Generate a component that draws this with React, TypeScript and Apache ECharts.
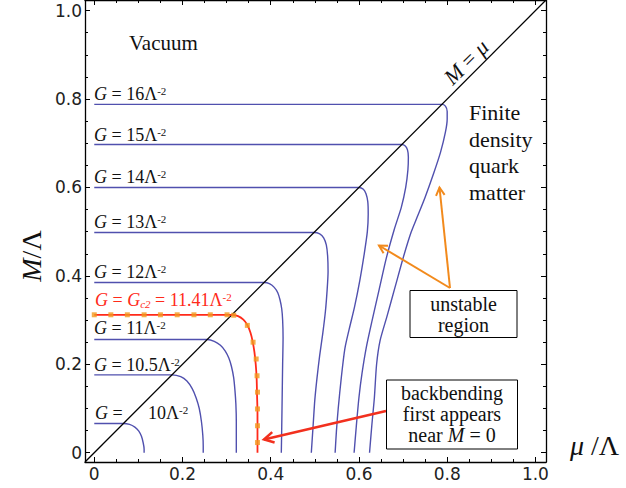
import React, { useEffect, useRef } from "react";
import * as echarts from "echarts";

// ---- axis range and ticks ----
const AXIS_MIN = -0.021;
const AXIS_MAX = 1.024;
const majorTicks = [0, 0.2, 0.4, 0.6, 0.8, 1.0];
const minorTicks = [0.05, 0.1, 0.15, 0.25, 0.3, 0.35, 0.45, 0.5, 0.55, 0.65, 0.7, 0.75, 0.85, 0.9, 0.95];
const tickLabels = ["0", "0.2", "0.4", "0.6", "0.8", "1.0"];

// ---- M = mu diagonal ----
const diagonal = [[AXIS_MIN, AXIS_MIN], [AXIS_MAX, AXIS_MAX]];

// ---- gap-equation solution curves (mu/Lambda, M/Lambda) ----
const curveG10 = [[0, 0.066], [0.066, 0.066], [0.080, 0.064], [0.092, 0.058], [0.101, 0.049], [0.107, 0.037], [0.111, 0.022], [0.113, 0.008], [0.113, 0]];
const curveG105 = [[0, 0.176], [0.176, 0.176], [0.196, 0.172], [0.210, 0.162], [0.222, 0.145], [0.231, 0.124], [0.238, 0.100], [0.243, 0.070], [0.246, 0.040], [0.247, 0.015], [0.247, 0]];
const curveG11 = [[0, 0.256], [0.256, 0.256], [0.272, 0.252], [0.286, 0.243], [0.297, 0.230], [0.305, 0.214], [0.311, 0.195], [0.316, 0.170], [0.319, 0.140], [0.321, 0.110], [0.322, 0.070], [0.322, 0.030], [0.322, 0]];
const curveGc2 = [[0, 0.312], [0.312, 0.312], [0.326, 0.309], [0.338, 0.301], [0.347, 0.289], [0.354, 0.272], [0.359, 0.252], [0.363, 0.228], [0.366, 0.200], [0.368, 0.170], [0.369, 0.130], [0.370, 0.090], [0.370, 0.050], [0.370, 0]];
const markersGc2 = [[0, 0.312], [0.0376, 0.312], [0.075, 0.312], [0.113, 0.312], [0.150, 0.312], [0.188, 0.312], [0.226, 0.312], [0.263, 0.312], [0.301, 0.312], [0.316, 0.311], [0.347, 0.288], [0.360, 0.250], [0.367, 0.212], [0.369, 0.174], [0.370, 0.137], [0.370, 0.099], [0.370, 0.061], [0.370, 0.023]];
const curveG12 = [[0, 0.385], [0.385, 0.385], [0.398, 0.382], [0.408, 0.374], [0.416, 0.362], [0.421, 0.346], [0.425, 0.325], [0.427, 0.300], [0.428, 0.260], [0.427, 0.200], [0.426, 0.130], [0.425, 0.060], [0.424, 0]];
const curveG13 = [[0, 0.498], [0.498, 0.498], [0.511, 0.495], [0.520, 0.486], [0.526, 0.470], [0.529, 0.445], [0.530, 0.410], [0.528, 0.370], [0.524, 0.320], [0.518, 0.270], [0.511, 0.220], [0.505, 0.170], [0.500, 0.120], [0.496, 0.060], [0.492, 0]];
const curveG14 = [[0, 0.600], [0.600, 0.600], [0.610, 0.596], [0.616, 0.586], [0.620, 0.568], [0.621, 0.540], [0.619, 0.500], [0.612, 0.450], [0.602, 0.390], [0.590, 0.330], [0.578, 0.280], [0.568, 0.235], [0.560, 0.170], [0.553, 0.100], [0.549, 0.050], [0.546, 0]];
const curveG15 = [[0, 0.697], [0.697, 0.697], [0.705, 0.694], [0.710, 0.685], [0.712, 0.669], [0.711, 0.640], [0.706, 0.600], [0.696, 0.555], [0.680, 0.505], [0.662, 0.440], [0.646, 0.370], [0.630, 0.300], [0.617, 0.240], [0.607, 0.180], [0.600, 0.125], [0.594, 0.060], [0.589, 0]];
const curveG16 = [[0, 0.788], [0.788, 0.788], [0.796, 0.784], [0.800, 0.772], [0.800, 0.755], [0.796, 0.725], [0.785, 0.680], [0.769, 0.631], [0.750, 0.578], [0.732, 0.533], [0.718, 0.498], [0.700, 0.440], [0.682, 0.375], [0.664, 0.310], [0.648, 0.254], [0.640, 0.200], [0.635, 0.125], [0.629, 0.060], [0.624, 0]];

const blueCurves = [curveG10, curveG105, curveG11, curveG12, curveG13, curveG14, curveG15, curveG16];

// ---- coupling labels ----
const gValues = ["16", "15", "14", "13", "12", "11", "10.5"];

const SERIF = '"Liberation Serif", "Times New Roman", serif';
const BLUE = "#5050ae";
const RED = "#ff2a1a";
const ORANGE = "#f39a1e";

function arrow(x1: number, y1: number, x2: number, y2: number, color: string, lw: number, head: number) {
  const ang = Math.atan2(y2 - y1, x2 - x1);
  const a1 = ang + Math.PI - 0.5;
  const a2 = ang + Math.PI + 0.5;
  return [
    { type: "line", z: 20, shape: { x1, y1, x2, y2 }, style: { stroke: color, lineWidth: lw } },
    {
      type: "polyline",
      z: 20,
      shape: {
        points: [
          [x2 + head * Math.cos(a1), y2 + head * Math.sin(a1)],
          [x2, y2],
          [x2 + head * Math.cos(a2), y2 + head * Math.sin(a2)],
        ],
      },
      style: { stroke: color, lineWidth: lw, fill: "none" },
    },
  ];
}

const richBase = (size: number) => ({
  i: { fontStyle: "italic", fontFamily: SERIF, fontSize: size },
  s: { fontFamily: SERIF, fontSize: Math.round(size * 0.6), verticalAlign: "top" },
  b: { fontFamily: SERIF, fontStyle: "italic", fontSize: Math.round(size * 0.6), verticalAlign: "bottom" },
});

function textEl(text: string, x: number, y: number, size: number, extra: any = {}) {
  const { fill = "#111", align = "left", rotation = 0, lineHeight } = extra;
  return {
    type: "text",
    z: 30,
    x,
    y,
    rotation,
    style: {
      text,
      fontFamily: SERIF,
      fontSize: size,
      fill,
      align,
      verticalAlign: "middle",
      lineHeight,
      rich: richBase(size),
    },
  };
}

export default function App() {
  const ref = useRef<HTMLDivElement>(null);
  useEffect(() => {
    if (!ref.current) return;
    const chart = echarts.init(ref.current, undefined, { renderer: "svg" });

    const axisLineStyle = { color: "#000", width: 1.3 };
    const tickStyle = { color: "#000", width: 1 };
    const mkX = (pos: string, major: boolean, showLine: boolean, labels: boolean) => ({
      type: "value",
      min: AXIS_MIN,
      max: AXIS_MAX,
      position: pos,
      axisLine: { show: showLine, onZero: false, lineStyle: axisLineStyle },
      axisTick: { show: true, inside: true, length: major ? 5 : 3, customValues: major ? majorTicks : minorTicks, lineStyle: tickStyle },
      axisLabel: labels
        ? {
            show: true,
            customValues: majorTicks,
            formatter: (v: number) => tickLabels[majorTicks.findIndex((t) => Math.abs(t - v) < 1e-6)] ?? "",
            fontFamily: '"DejaVu Sans", sans-serif',
            fontSize: 17,
            color: "#222",
            margin: 3,
          }
        : { show: false },
      splitLine: { show: false },
    });

    const gLabelYs = [94, 135, 177, 222, 272, 328, 365];
    const graphics: any[] = [];
    gValues.forEach((g, i) => {
      graphics.push(textEl(`{i|G} = ${g}Λ{s|-2}`, 94, gLabelYs[i], 18));
    });
    graphics.push(textEl(`{i|G} =`, 95, 413, 18));
    graphics.push(textEl(`10Λ{s|-2}`, 148, 413, 18));
    graphics.push(
      textEl(`{i|G} = {i|G}{b|c2} = 11.41Λ{s|-2}`, 95, 300, 18, { fill: RED })
    );
    graphics.push(textEl("Vacuum", 129, 43, 21));
    graphics.push(textEl("{i|M} = {i|μ}", 466, 62, 22, { align: "center", rotation: Math.PI / 4 }));
    graphics.push(textEl("Finite\ndensity\nquark\nmatter", 469, 152.5, 22, { lineHeight: 26.5 }));

    // boxes
    graphics.push({
      type: "rect",
      z: 25,
      shape: { x: 410, y: 290.5, width: 107, height: 47 },
      style: { fill: "#fff", stroke: "#000", lineWidth: 1 },
    });
    graphics.push(textEl("unstable", 463.5, 304, 20, { align: "center" }));
    graphics.push(textEl("region", 463.5, 324.5, 20, { align: "center" }));
    graphics.push({
      type: "rect",
      z: 25,
      shape: { x: 386.5, y: 380, width: 131, height: 69 },
      style: { fill: "#fff", stroke: "#000", lineWidth: 1 },
    });
    graphics.push(textEl("backbending", 452, 393, 20, { align: "center" }));
    graphics.push(textEl("first appears", 452, 414, 20, { align: "center" }));
    graphics.push(textEl("near {i|M} = 0", 452, 435, 20, { align: "center" }));

    // arrows
    graphics.push(...arrow(450, 288, 379, 245.5, "#f28a1c", 2, 9));
    graphics.push(...arrow(450, 288, 439.5, 187.5, "#f28a1c", 2, 9));
    graphics.push(...arrow(386, 411, 264, 439.5, "#f2301e", 2.5, 11));

    // axis titles
    graphics.push(textEl("{i|M}/Λ", 31, 256, 28, { align: "center", rotation: Math.PI / 2 }));
    graphics.push(textEl("{i|μ} /Λ", 570, 445, 28));

    const series: any[] = [
      {
        type: "line",
        data: diagonal,
        showSymbol: false,
        lineStyle: { color: "#000", width: 1.3 },
        z: 3,
        silent: true,
      },
      ...blueCurves.map((c) => ({
        type: "line",
        data: c,
        showSymbol: false,
        smooth: 0.25,
        lineStyle: { color: BLUE, width: 1.4 },
        z: 2,
        silent: true,
      })),
      {
        type: "line",
        data: curveGc2,
        showSymbol: false,
        smooth: 0.25,
        lineStyle: { color: RED, width: 1.8 },
        z: 4,
        silent: true,
      },
      {
        type: "scatter",
        data: markersGc2,
        symbol: "rect",
        symbolSize: 5,
        itemStyle: { color: ORANGE },
        z: 5,
        silent: true,
      },
    ];

    chart.setOption({
      animation: false,
      backgroundColor: "#fff",
      grid: { left: 85, top: 0, width: 461, height: 462, containLabel: false },
      xAxis: [mkX("bottom", true, true, true), mkX("bottom", false, false, false), mkX("top", true, true, false), mkX("top", false, false, false)],
      yAxis: [mkX("left", true, true, true), mkX("left", false, false, false), mkX("right", true, true, false), mkX("right", false, false, false)],
      series,
      graphic: graphics,
    });
    return () => chart.dispose();
  }, []);
  return <div ref={ref} style={{ position: "fixed", left: 0, top: 0, width: 626, height: 488, background: "#fff" }} />;
}
